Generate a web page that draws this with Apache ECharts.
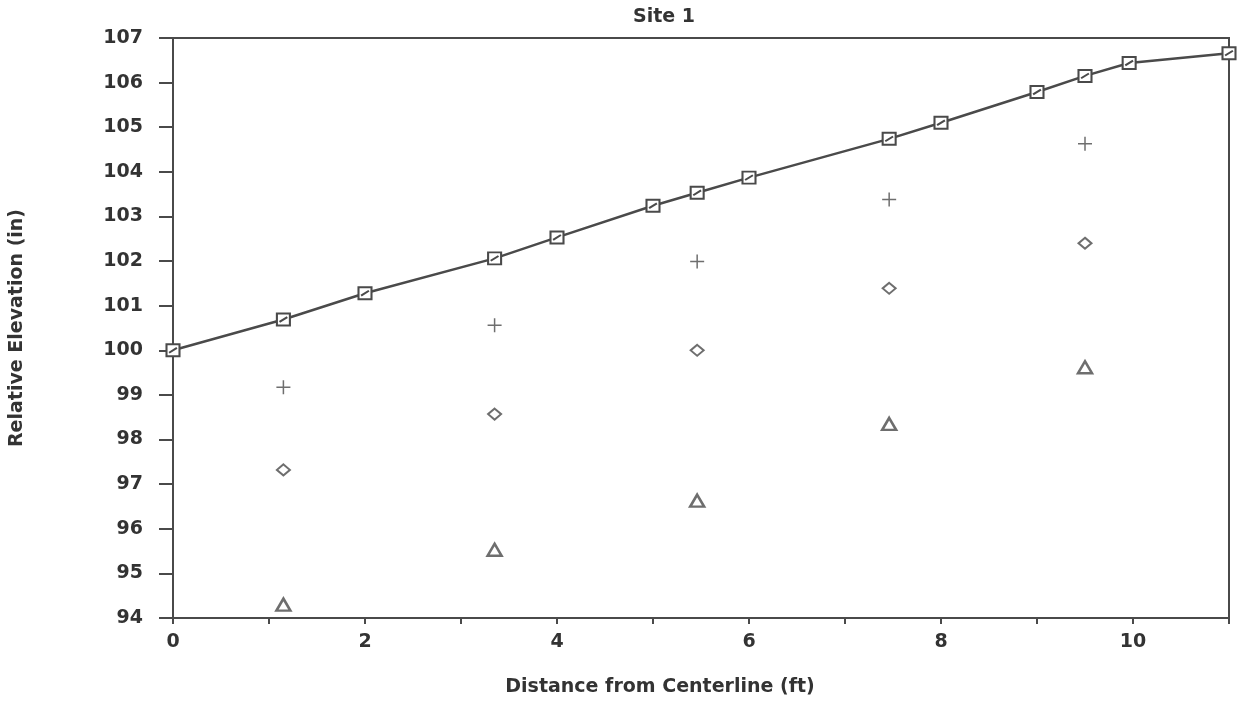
<!DOCTYPE html>
<html>
<head>
<meta charset="utf-8">
<script src="https://cdn.jsdelivr.net/npm/echarts@6/dist/echarts.min.js"></script>
<style>
  html, body { margin: 0; padding: 0; background: #fff; }
  #chart { width: 1237px; height: 702px; }
</style>
</head>
<body>
<div id="chart"></div>
<script>
// Ground surface profile (connected line)
const surfaceX = [0, 1.15, 2, 3.35, 4, 5, 5.46, 6, 7.46, 8, 9, 9.5, 9.96, 11];
const surfaceY = [100, 100.69, 101.28, 102.06, 102.53, 103.24, 103.53, 103.87, 104.74, 105.1, 105.79, 106.15, 106.44, 106.66];

// Measurement stations for the lower profiles
const stationX = [1.15, 3.35, 5.46, 7.46, 9.5];
const plusY = [99.17, 100.56, 101.99, 103.38, 104.63];
const diamondY = [97.32, 98.57, 100.0, 101.39, 102.4];
const triangleY = [94.3, 95.53, 96.63, 98.35, 99.62];

const xTicks = [0, 2, 4, 6, 8, 10];

const ink = '#4a4a4a';
const textInk = '#333';
const font = '"DejaVu Sans", sans-serif';

function pairs(xs, ys) { return xs.map((x, i) => [x, ys[i]]); }

const chart = echarts.init(document.getElementById('chart'), null, { renderer: 'canvas' });

chart.setOption({
  backgroundColor: '#fff',
  animation: false,
  title: {
    text: 'Site 1',
    left: 659,
    textAlign: 'center',
    top: 3,
    textStyle: { fontFamily: font, fontWeight: 'bold', fontSize: 19, color: textInk }
  },
  grid: {
    left: 173, right: 8, top: 38, bottom: 82,
    show: true, borderColor: ink, borderWidth: 2, backgroundColor: 'transparent'
  },
  xAxis: {
    type: 'value', min: 0, max: 11, interval: 1,
    name: 'Distance from Centerline (ft)',
    nameLocation: 'middle', nameGap: 60,
    nameTextStyle: { fontFamily: font, fontWeight: 'bold', fontSize: 19, color: textInk, padding: [0, 82, 0, 0] },
    axisLine: { lineStyle: { color: ink, width: 2 } },
    axisTick: { inside: false, length: 6, lineStyle: { color: ink, width: 2 } },
    axisLabel: {
      margin: 15, fontFamily: font, fontWeight: 'bold', fontSize: 19, color: textInk,
      formatter: v => xTicks.includes(v) ? String(v) : ''
    },
    splitLine: { show: false }
  },
  yAxis: {
    type: 'value', min: 94, max: 107, interval: 1,
    name: 'Relative Elevation (in)',
    nameLocation: 'middle', nameGap: 146, nameRotate: 90,
    nameTextStyle: { fontFamily: font, fontWeight: 'bold', fontSize: 19, color: textInk },
    axisLine: { lineStyle: { color: ink, width: 2 } },
    axisTick: { inside: false, length: 14, lineStyle: { color: ink, width: 2 } },
    axisLabel: { margin: 30, fontFamily: font, fontWeight: 'bold', fontSize: 19, color: textInk },
    splitLine: { show: false }
  },
  series: [
    {
      name: 'Surface', type: 'line', data: pairs(surfaceX, surfaceY),
      lineStyle: { color: ink, width: 2.5 },
      symbol: 'path://M0,0 L10,0 L10,10 L0,10 Z M2,7 L8,3',
      symbolSize: [13, 12],
      itemStyle: { color: '#fff', borderColor: ink, borderWidth: 2 },
      z: 3
    },
    {
      name: 'Plus', type: 'scatter', data: pairs(stationX, plusY),
      symbol: 'path://M0,5 L10,5 M5,0 L5,10', symbolSize: 14,
      itemStyle: { color: 'transparent', borderColor: ink, borderWidth: 1.5 }
    },
    {
      name: 'Diamond', type: 'scatter', data: pairs(stationX, diamondY),
      symbol: 'diamond', symbolSize: [13, 11],
      itemStyle: { color: 'transparent', borderColor: ink, borderWidth: 2 }
    },
    {
      name: 'Triangle', type: 'scatter', data: pairs(stationX, triangleY),
      symbol: 'triangle', symbolSize: [14, 12],
      itemStyle: { color: 'transparent', borderColor: ink, borderWidth: 2.5 }
    }
  ]
});
</script>
</body>
</html>
